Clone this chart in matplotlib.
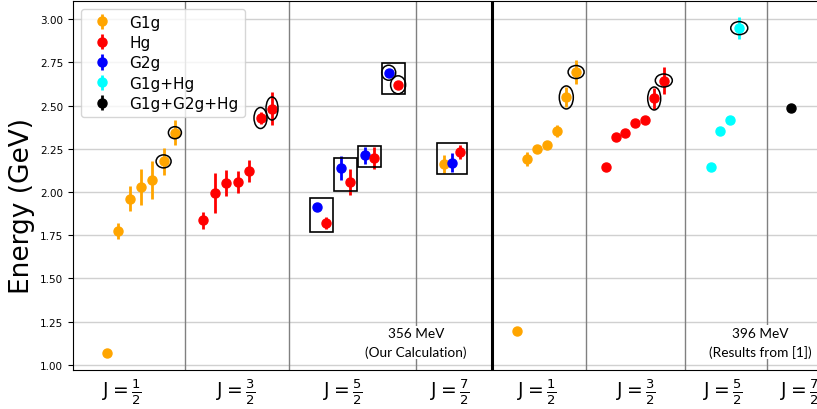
import numpy as np
import matplotlib.pyplot as plt
from matplotlib.patches import Ellipse, Rectangle
from matplotlib.transforms import ScaledTranslation

plt.rcParams['mathtext.fontset'] = 'custom'
plt.rcParams['mathtext.rm'] = 'DejaVu Sans'
plt.rcParams['mathtext.it'] = 'DejaVu Sans'

# ---- our calculation (356 MeV) ----
ours_j12_g1g = [1.07, 1.775, 1.961, 2.029, 2.069, 2.177, 2.343]
ours_j12_g1g_err = [0.0, 0.045, 0.071, 0.106, 0.108, 0.080, 0.072]
ours_j32_hg = [1.836, 1.994, 2.052, 2.056, 2.121, 2.428, 2.483]
ours_j32_hg_err = [0.048, 0.116, 0.075, 0.063, 0.066, 0.037, 0.094]
ours_j52_g2g = [1.913, 2.140, 2.212, 2.690]
ours_j52_g2g_err = [0.0, 0.070, 0.048, 0.020]
ours_j52_hg = [1.821, 2.058, 2.197, 2.620]
ours_j52_hg_err = [0.036, 0.077, 0.064, 0.020]
ours_j72 = [2.160, 2.168, 2.231]          # G1g, G2g, Hg
ours_j72_err = [0.053, 0.055, 0.040]

# ---- results from [1] (396 MeV) ----
ref_j12_g1g = [1.194, 2.191, 2.246, 2.270, 2.354, 2.547, 2.694]
ref_j12_g1g_err = [0.0, 0.043, 0.0, 0.0, 0.036, 0.058, 0.067]
ref_j32_hg = [2.146, 2.316, 2.339, 2.402, 2.414, 2.541, 2.645]
ref_j32_hg_err = [0.0, 0.0, 0.0, 0.0, 0.0, 0.063, 0.077]
ref_j52_mix = [2.142, 2.354, 2.416, 2.948]
ref_j52_mix_err = [0.0, 0.0, 0.0, 0.065]
ref_j72_all = [2.486]

tick_labels = [r'J$=\frac{1}{2}$', r'J$=\frac{3}{2}$', r'J$=\frac{5}{2}$', r'J$=\frac{7}{2}$'] * 2
tick_pos = [4.9, 16.3, 27.0, 37.7, 46.4, 56.3, 65.0, 72.7]
sep_pos = [11.2, 21.6, 34.3, 51.3, 61.2, 69.4]

colors = {'G1g': 'orange', 'Hg': 'red', 'G2g': 'blue',
          'G1g+Hg': 'cyan', 'G1g+G2g+Hg': 'black'}


def spread(center, step, n):
    return center + step * (np.arange(n) - (n - 1) / 2)


fig = plt.figure(figsize=(8.17, 4.10), dpi=100)
ax = fig.add_axes([73 / 817, 39 / 410, 760 / 817, 369 / 410])

kw = dict(fmt='o', ms=6.5, elinewidth=2, capsize=0, zorder=4)


def plot(x, y, err, name, label=True):
    ax.errorbar(x, y, yerr=err, color=colors[name],
                label=name if label else None, **kw)


# our calculation
x12 = spread(6.8, 1.13, 7)
x32 = spread(16.45, 1.15, 7)
pair = spread(28.44, 2.4, 4)
x72 = spread(37.9, 0.78, 3)
plot(x12, ours_j12_g1g, ours_j12_g1g_err, 'G1g')
plot(x32, ours_j32_hg, ours_j32_hg_err, 'Hg')
plot(pair - 0.47, ours_j52_g2g, ours_j52_g2g_err, 'G2g')
plot(pair + 0.47, ours_j52_hg, ours_j52_hg_err, 'Hg', False)
for xi, yi, ei, name in zip(x72, ours_j72, ours_j72_err, ['G1g', 'G2g', 'Hg']):
    plot([xi], [yi], [ei], name, False)

# results from [1]
rx12 = spread(47.37, 0.98, 7)
rx32 = spread(56.2, 0.96, 7)
rx52 = spread(65.2, 0.95, 4)
plot(rx12, ref_j12_g1g, ref_j12_g1g_err, 'G1g', False)
plot(rx32, ref_j32_hg, ref_j32_hg_err, 'Hg', False)
plot(rx52, ref_j52_mix, ref_j52_mix_err, 'G1g+Hg')
plot([71.8], ref_j72_all, [0.0], 'G1g+G2g+Hg')


def ring(x, y, w, h):
    # ellipse sized in pixels, centred on a data point
    tr = fig.dpi_scale_trans + ScaledTranslation(x, y, ax.transData)
    ax.add_patch(Ellipse((0, 0), w / 100, h / 100, transform=tr,
                         fill=False, ec='black', lw=1.1, zorder=5))


ring(x12[5], ours_j12_g1g[5], 15, 13)
ring(x12[6], ours_j12_g1g[6], 13, 12)
ring(x32[5], ours_j32_hg[5], 13, 21)
ring(x32[6], ours_j32_hg[6], 12, 23)
ring(pair[3] - 0.47, ours_j52_g2g[3], 14, 15)
ring(pair[3] + 0.47, ours_j52_hg[3], 15, 18)
ring(rx12[5], ref_j12_g1g[5], 14, 23)
ring(rx12[6], ref_j12_g1g[6], 16, 13)
ring(rx32[5], ref_j32_hg[5], 13, 23)
ring(rx32[6], ref_j32_hg[6], 17, 13)
ring(rx52[3], ref_j52_mix[3], 17, 13)


def box(xs, ys, pad_x=0.7, pad_y=0.055):
    x0, x1 = min(xs) - pad_x, max(xs) + pad_x
    y0, y1 = min(ys) - pad_y, max(ys) + pad_y
    ax.add_patch(Rectangle((x0, y0), x1 - x0, y1 - y0, fill=False,
                           ec='black', lw=1.2, zorder=5))


for i in range(4):
    box([pair[i] - 0.47, pair[i] + 0.47], [ours_j52_g2g[i], ours_j52_hg[i]])
box(x72, ours_j72)

for xs in sep_pos:
    ax.axvline(xs, color='#808080', lw=1, zorder=1)
ax.axvline(41.9, color='black', lw=2.2, zorder=3)

ax.text(34.3, 1.13, '356 MeV\n(Our Calculation)', ha='center', va='center',
        family='Lato', fontsize=9.8, linespacing=1.6, zorder=6,
        bbox=dict(fc='white', ec='none', pad=1))
ax.text(68.7, 1.13, '396 MeV\n(Results from [1])', ha='center', va='center',
        family='Lato', fontsize=9.8, linespacing=1.6, zorder=6,
        bbox=dict(fc='white', ec='none', pad=1))

ax.set_xlim(0, 76)
ax.set_ylim(0.97, 3.105)
ax.set_yticks(np.arange(1.0, 3.01, 0.25))
ax.yaxis.grid(True, color='#d0d0d0', lw=1)
ax.set_axisbelow(True)
ax.tick_params(axis='y', labelsize=7.5, length=3.5)
ax.set_xticks(tick_pos)
ax.set_xticklabels(tick_labels, fontsize=13.5)
ax.tick_params(axis='x', length=0, pad=5)
ax.set_ylabel('Energy (GeV)', fontsize=19)
ax.yaxis.set_label_coords(-0.050, 0.447)

ax.legend(loc='upper left', fontsize=11, labelspacing=0.35, framealpha=0.8)

fig.savefig('out.png', dpi=100)
